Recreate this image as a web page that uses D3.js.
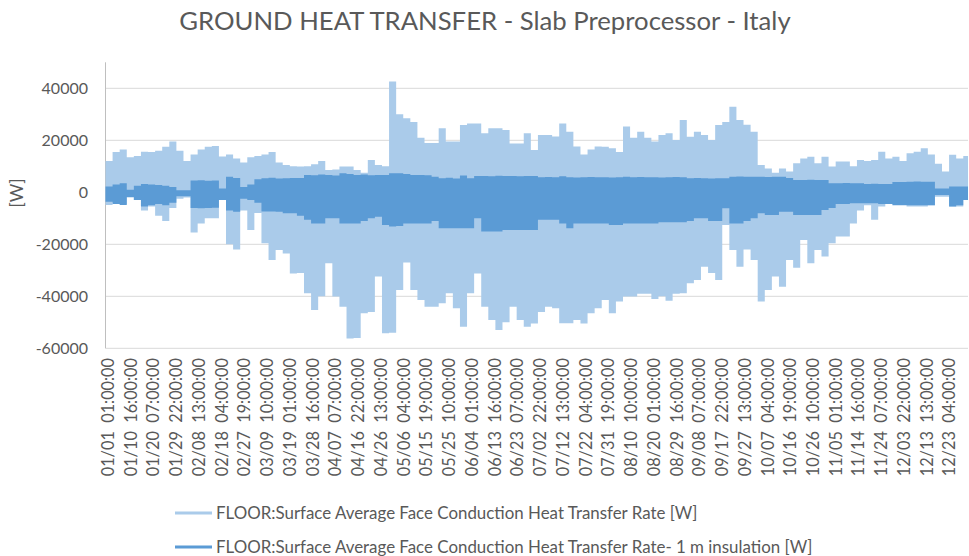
<!DOCTYPE html>
<html>
<head>
<meta charset="utf-8">
<script src="https://cdn.jsdelivr.net/npm/d3@7/dist/d3.min.js"></script>
<style>
  html, body { margin: 0; padding: 0; background: #fff; }
  svg { display: block; font-family: Lato, "Open Sans", "DejaVu Sans", sans-serif; }
</style>
</head>
<body>
<svg id="chart" width="969" height="556"></svg>
<script>
// ---------------- DATA ----------------
const chartTitle = "GROUND HEAT TRANSFER - Slab Preprocessor - Italy";
const yAxisTitle = "[W]";
const seriesNames = [
  "FLOOR:Surface Average Face Conduction Heat Transfer Rate [W]",
  "FLOOR:Surface Average Face Conduction Heat Transfer Rate- 1 m insulation [W]"
];
const totalHours = 8760;
const hoursPerBin = 72;           // each value below summarises 72 hourly readings
const tickStepHours = 231;        // category label interval
const yTicks = [-60000, -40000, -20000, 0, 20000, 40000];
const yMax = 50000;

const tickLabels = [
  "01/01  01:00:00","01/10  16:00:00","01/20  07:00:00","01/29  22:00:00","02/08  13:00:00",
  "02/18  04:00:00","02/27  19:00:00","03/09  10:00:00","03/19  01:00:00","03/28  16:00:00",
  "04/07  07:00:00","04/16  22:00:00","04/26  13:00:00","05/06  04:00:00","05/15  19:00:00",
  "05/25  10:00:00","06/04  01:00:00","06/13  16:00:00","06/23  07:00:00","07/02  22:00:00",
  "07/12  13:00:00","07/22  04:00:00","07/31  19:00:00","08/10  10:00:00","08/20  01:00:00",
  "08/29  16:00:00","09/08  07:00:00","09/17  22:00:00","09/27  13:00:00","10/07  04:00:00",
  "10/16  19:00:00","10/26  10:00:00","11/05  01:00:00","11/14  16:00:00","11/24  07:00:00",
  "12/03  22:00:00","12/13  13:00:00","12/23  04:00:00"
];

// Series 1 (no insulation): max / min of each 72 h block [W]
const floorMax = [
  12000,15500,16500,13500,14000,15600,15500,16000,17500,19500,
  16000,12000,14500,16500,17500,17800,13800,14500,13000,11500,
  13500,14000,14500,15500,11500,10500,10000,9900,10000,10800,
  12000,8600,8800,9900,9900,8600,7500,12400,10500,10000,
  42600,30000,28500,27000,21000,19000,19000,24600,19500,19500,
  25900,26500,26500,22700,24600,24600,24000,18800,18800,22700,
  16300,22000,22000,21500,26500,23300,17600,14500,16500,17600,
  17500,16900,15500,25300,21000,23300,21000,19500,22000,22700,
  20100,27800,21400,23300,22000,20100,25900,27000,32900,27800,
  26000,23300,10500,9200,7500,9200,8000,11200,13000,13700,
  11200,13700,9900,11800,11800,10000,12400,12000,12400,15600,
  13000,13700,12000,15000,15600,16900,14500,11000,8000,14400,
  13000,14000
];
const floorMin = [
  -4900,-4000,-4500,-2000,-3000,-7000,-5500,-9000,-11000,-6000,
  -2500,-2000,-15500,-12000,-10000,-10000,-3000,-20000,-22000,-7000,
  -14500,-8000,-19600,-26000,-22200,-23500,-31200,-31000,-38800,-45300,
  -40000,-27300,-40100,-44000,-56200,-56000,-46500,-46000,-32400,-54200,
  -54000,-37600,-27000,-37600,-41400,-44000,-44000,-42700,-38800,-44600,
  -51700,-38800,-31200,-44000,-49100,-53000,-50000,-44000,-49100,-51700,
  -50500,-46000,-44000,-44600,-50400,-50400,-49100,-50500,-46500,-44600,
  -41400,-46500,-42000,-40100,-40100,-39000,-39000,-41000,-40000,-41700,
  -39000,-38800,-35000,-33700,-28600,-31000,-33700,-12600,-22200,-28600,
  -22000,-26000,-42000,-37600,-32400,-36300,-26000,-29000,-18300,-27300,
  -22200,-24700,-19600,-17000,-17000,-12000,-7000,-5000,-10600,-5500,
  -4500,-4200,-4800,-5500,-5500,-5500,-5000,-1700,-1700,-5500,
  -5500,-3000
];
// Series 2 (1 m insulation): max / min of each 72 h block [W]
const insulMax = [
  2200,3000,3500,1000,2500,3200,3000,2800,2500,2000,
  800,800,4500,4600,4400,4500,1500,6000,5500,2000,
  3000,5000,5400,5600,5300,5400,5500,5500,6700,6600,
  6800,6700,6500,7300,7000,6700,6800,6600,6700,6700,
  7300,7300,7000,6700,6700,6600,6000,5400,5600,5300,
  6500,5400,6300,6300,6200,6400,6300,6300,6200,6300,
  6300,5800,5900,5800,6200,5800,5700,5800,5900,5800,
  5800,5700,5800,6000,5800,5900,5800,5800,5700,5800,
  5900,5800,5400,5500,5400,5300,5400,5400,6000,6100,
  6000,6000,6000,5900,6000,6000,5500,4700,4700,4800,
  4700,4700,3500,3500,3600,3500,3500,3200,3300,3200,
  3200,4000,4000,4100,4200,4100,4100,1500,1500,2200,
  2200,2200
];
const insulMin = [
  -3600,-4500,-4900,-1800,-3000,-5500,-5000,-4500,-5000,-4000,
  -1500,-1500,-6000,-6100,-6000,-5900,-3000,-7000,-7500,-2500,
  -3000,-4000,-7400,-7400,-7500,-8100,-8100,-9000,-10600,-12000,
  -12000,-10000,-10000,-12000,-12000,-12000,-11000,-10000,-9400,-12600,
  -13200,-13000,-12000,-12000,-12000,-12000,-11000,-13800,-13800,-13800,
  -13800,-13800,-10000,-15100,-15100,-15100,-14500,-14500,-14500,-14500,
  -14500,-10600,-10600,-10600,-12000,-13800,-12000,-12000,-12000,-12000,
  -12000,-12600,-12600,-12000,-12000,-12000,-12000,-12000,-11500,-11500,
  -11500,-11500,-11000,-10000,-10000,-11000,-11000,-6100,-12000,-12000,
  -11000,-10000,-8100,-8700,-8700,-7500,-7500,-8700,-8700,-8700,
  -8700,-6800,-6000,-4500,-4500,-4200,-4200,-4200,-4200,-4500,
  -4500,-5000,-5000,-5000,-5000,-5000,-5000,-1000,-1000,-5500,
  -5000,-3000
];

const colors = { floor: "#aacbea", insul: "#5b9bd5", text: "#595959", grid: "#d9d9d9", axis: "#bfbfbf" };

// ---------------- CHART ----------------
const svg = d3.select("#chart");
const plot = { left: 105.5, right: 968, top: 62.3, bottom: 348.3 };

const x = d3.scaleLinear().domain([0, totalHours]).range([plot.left, plot.right]);
const y = d3.scaleLinear().domain([yTicks[0], yMax]).range([plot.bottom, plot.top]);

// gridlines
svg.append("g").selectAll("line").data(yTicks).join("line")
  .attr("x1", plot.left).attr("x2", plot.right)
  .attr("y1", d => y(d)).attr("y2", d => y(d))
  .attr("stroke", colors.grid).attr("stroke-width", 1);

// value axis line
svg.append("line").attr("x1", plot.left).attr("x2", plot.left)
  .attr("y1", plot.top).attr("y2", plot.bottom)
  .attr("stroke", colors.axis).attr("stroke-width", 1);

function bins(maxArr, minArr) {
  const pts = maxArr.map((v, i) => ({ h: i * hoursPerBin, hi: v, lo: minArr[i] }));
  const last = pts[pts.length - 1];
  pts.push({ h: totalHours, hi: last.hi, lo: last.lo });
  return pts;
}
const area = d3.area().curve(d3.curveStepAfter)
  .x(d => x(d.h)).y0(d => y(d.lo)).y1(d => y(d.hi));

svg.append("path").datum(bins(floorMax, floorMin))
  .attr("d", area).attr("fill", colors.floor);
svg.append("path").datum(bins(insulMax, insulMin))
  .attr("d", area).attr("fill", colors.insul);

// y tick labels
svg.append("g").selectAll("text").data(yTicks).join("text")
  .attr("x", 88).attr("y", d => y(d)).attr("dy", "0.36em")
  .attr("text-anchor", "end").attr("fill", colors.text)
  .style("font-size", "16px").text(d => d);

// y axis title
svg.append("text").attr("transform", "translate(23,193) rotate(-90)")
  .attr("text-anchor", "middle").attr("fill", colors.text)
  .style("font-size", "18px").text(yAxisTitle);

// category labels
svg.append("g").selectAll("text").data(tickLabels).join("text")
  .attr("transform", (d, i) => `translate(${x(i * tickStepHours + 0.5) + 2.5},358) rotate(-90)`)
  .attr("dy", "0.36em").attr("text-anchor", "end").attr("fill", colors.text)
  .style("font-size", "16.3px").style("white-space", "pre").text(d => d);

// title
svg.append("text").attr("x", 485).attr("y", 30).attr("text-anchor", "middle")
  .attr("fill", colors.text).style("font-size", "25.7px").text(chartTitle);

// legend
const legend = svg.append("g");
[[colors.floor, 513], [colors.insul, 547]].forEach(([c, yy], i) => {
  legend.append("line").attr("x1", 175).attr("x2", 212).attr("y1", yy).attr("y2", yy)
    .attr("stroke", c).attr("stroke-width", 3);
  legend.append("text").attr("x", 216).attr("y", yy).attr("dy", "0.36em")
    .attr("fill", colors.text).style("font-size", "16.9px").text(seriesNames[i]);
});
</script>
</body>
</html>
